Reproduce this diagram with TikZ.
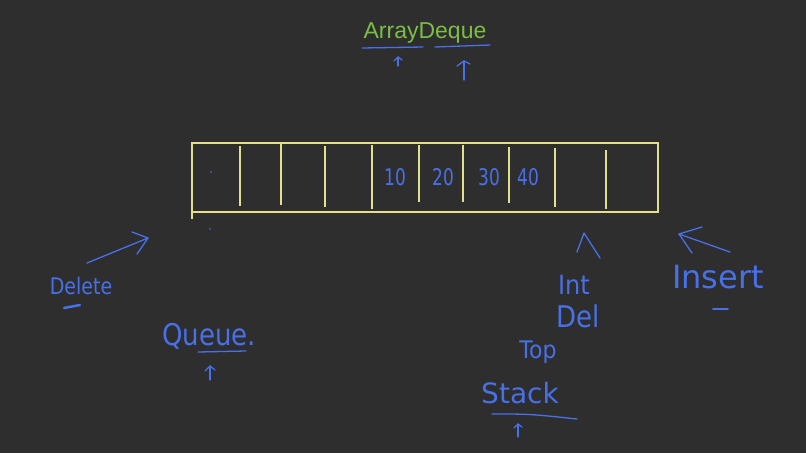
\documentclass[tikz,border=0pt]{standalone}
\usepackage{fontspec}
\setmainfont{Liberation Sans}
\newfontfamily\hand{DejaVu Sans}
\definecolor{bg}{RGB}{46,46,46}
\definecolor{yel}{RGB}{226,224,138}
\definecolor{pen}{RGB}{72,112,232}
\definecolor{grn}{RGB}{122,190,72}
\newcommand{\tallhw}[2]{\scalebox{1}[#1]{#2}}
\begin{document}
\begin{tikzpicture}[x=1pt,y=-1pt,
  ink/.style={draw=pen, line width=1.3pt, line cap=round, line join=round},
  hw/.style={text=pen, font=\hand\fontsize{#1}{#1}\selectfont, inner sep=0pt, anchor=base},
  cell/.style={draw=yel, line width=1.3pt}]
\fill[bg] (0,0) rectangle (806,453);
\useasboundingbox (0,0) rectangle (806,453);
% title
\node[text=grn, font=\fontsize{23}{24}\selectfont, inner sep=0pt, anchor=base] (title) at (425,38) {ArrayDeque};
\draw[ink] (362,48) -- (423,47);
\draw[ink] (435,47) -- (490,45);
\coordinate (a1s) at (398,66); \coordinate (a1e) at (398,57);
\draw[ink] (a1s) -- (a1e); \draw[ink] (394,61) -- (a1e) -- (402,60);
\coordinate (a2s) at (464,80); \coordinate (a2e) at (464,61);
\draw[ink] (a2s) -- (a2e); \draw[ink] (457,66) -- (a2e) -- (470,64);
% array box
\draw[cell] (192,219) -- (192,143) -- (658,143) -- (658,212) -- (192,212);
\foreach \x/\t/\b in {240/146/206, 281/144/205, 325/146/207, 372/145/209, 419/145/202, 463/145/202, 509/147/203, 555/148/207, 606/150/209}
  \draw[cell] (\x,\t) -- (\x,\b);
\node[hw=17] (n10) at (395,185) {\tallhw{1.35}{10}};
\node[hw=17] (n20) at (443,185) {\tallhw{1.35}{20}};
\node[hw=17] (n30) at (489,185) {\tallhw{1.35}{30}};
\node[hw=17] (n40) at (528,185) {\tallhw{1.35}{40}};
\fill[pen] (211,172) circle (0.8);
\fill[pen] (210,229) circle (0.8);
% delete
\node[hw=19] (del) at (81,294) {\tallhw{1.2}{Delete}};
\coordinate (dA) at (87,263); \coordinate (dB) at (148,238);
\draw[ink] (dA) -- (dB);
\draw[ink] (132,232) -- (dB) -- (137,254);
\draw[pen, line width=2.5pt, line cap=round] (64,308) -- (80,305);
% queue
\node[hw=26] (queue) at (209,345) {\tallhw{1.15}{Queue.}};
\draw[ink] (198,352) -- (246,351);
\coordinate (qs) at (210,380); \coordinate (qe) at (210,366);
\draw[ink] (qs) -- (qe); \draw[ink] (205,371) -- (qe) -- (215,370);
% insert
\node[hw=32] (ins) at (718,288) {Insert};
\coordinate (iA) at (730,252); \coordinate (iB) at (679,234);
\draw[ink] (iA) -- (iB);
\draw[ink] (702,227) -- (iB) -- (692,253);
\draw[pen, line width=1.8pt, line cap=round] (713,309) -- (728,309);
% stack side
\coordinate (c1) at (577,252); \coordinate (c2) at (584,233); \coordinate (c3) at (600,258);
\draw[ink] (c1) -- (c2) -- (c3);
\node[hw=24] (int) at (574,294) {\tallhw{1.1}{Int}};
\node[hw=26] (dl) at (578,327) {\tallhw{1.15}{Del}};
\node[hw=22] (top) at (538,358) {\tallhw{1.1}{Top}};
\node[hw=28] (stack) at (520,403) {Stack};
\draw[ink] (492,414) .. controls (530,414) .. (577,419);
\coordinate (ss) at (518,437); \coordinate (se) at (518,424);
\draw[ink] (ss) -- (se); \draw[ink] (514,428) -- (se) -- (522,427);
\end{tikzpicture}
\end{document}
